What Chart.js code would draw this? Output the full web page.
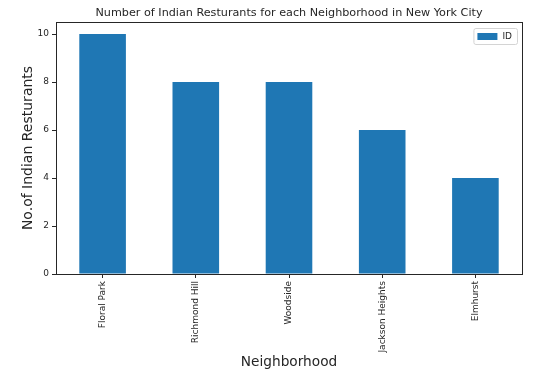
<!DOCTYPE html>
<html>
<head>
<meta charset="utf-8">
<script src="https://cdn.jsdelivr.net/npm/chart.js@4/dist/chart.umd.min.js"></script>
<style>
  html, body { margin: 0; padding: 0; background: #fff; }
  #wrap { width: 540px; height: 374px; }
</style>
</head>
<body>
<div id="wrap"><canvas id="barChart" width="540" height="374"></canvas></div>
<script>
// data
var neighborhoods = ['Floral Park', 'Richmond Hill', 'Woodside', 'Jackson Heights', 'Elmhurst'];
var restaurantCounts = [10, 8, 8, 6, 4];
var yTicks = [0, 2, 4, 6, 8, 10];
var chartTitle = 'Number of Indian Resturants for each Neighborhood in New York City';

var FONT = "'DejaVu Sans', sans-serif";
var INK = '#262626';

// matplotlib style: title over the plot, frame round it, legend box in the upper right
var mplPlugin = {
	id: 'mplLook',
	afterDraw: function(chart) {
		var a = chart.chartArea, ctx = chart.ctx;
		ctx.save();

		// frame
		ctx.strokeStyle = INK;
		ctx.lineWidth = 1;
		ctx.strokeRect(a.left + 0.5, a.top + 0.5, a.right - a.left, a.bottom - a.top);

		// title centred on the plot
		ctx.fillStyle = INK;
		ctx.font = '11.2px ' + FONT;
		ctx.textAlign = 'center';
		ctx.textBaseline = 'middle';
		ctx.fillText(chartTitle, (a.left + a.right) / 2, a.top - 9);

		// legend
		var ds = chart.data.datasets[0];
		ctx.font = '9px ' + FONT;
		var tw = ctx.measureText(ds.label).width;
		var w = 4 + 20 + 5 + tw + 5, h = 16;
		var x = a.right - 5 - w, y = a.top + 6;
		ctx.fillStyle = 'rgba(255,255,255,0.8)';
		ctx.strokeStyle = '#d4d4d4';
		ctx.beginPath();
		ctx.roundRect(x + 0.5, y + 0.5, w, h, 2);
		ctx.fill();
		ctx.stroke();
		ctx.fillStyle = ds.backgroundColor;
		ctx.fillRect(x + 4, y + 5, 20, 7);
		ctx.fillStyle = INK;
		ctx.textAlign = 'left';
		ctx.fillText(ds.label, x + 29, y + 8.5);

		ctx.restore();
	}
};

var ctx = document.getElementById('barChart').getContext('2d');

var chart = new Chart(ctx, {
	type: 'bar',
	data: {
		labels: neighborhoods,
		datasets: [{
			label: 'ID',
			data: restaurantCounts,
			backgroundColor: '#1f77b4',
			borderWidth: 0,
			categoryPercentage: 1.0,
			barPercentage: 0.5
		}]
	},
	plugins: [mplPlugin],
	options: {
		responsive: false,
		animation: false,
		layout: { padding: { left: 0, right: 18, top: 22, bottom: 0 } },
		plugins: {
			title: { display: false },
			legend: { display: false },
			tooltip: { enabled: false }
		},
		scales: {
			x: {
				grid: { display: true, drawOnChartArea: false, offset: false, tickLength: 4, tickColor: INK },
				border: { display: true, color: INK },
				ticks: {
					color: INK,
					font: { family: FONT, size: 9 },
					minRotation: 90,
					maxRotation: 90,
					padding: 3
				},
				title: {
					display: true,
					text: 'Neighborhood',
					color: INK,
					font: { family: FONT, size: 13.7 },
					padding: { top: 0, bottom: 3 }
				},
				afterFit: function(scale) { scale.height = 100; }
			},
			y: {
				min: 0,
				max: 10.5,
				grid: { display: true, drawOnChartArea: false, tickLength: 4, tickColor: INK },
				border: { display: true, color: INK },
				ticks: {
					color: INK,
					font: { family: FONT, size: 9 },
					padding: 3
				},
				afterBuildTicks: function(scale) {
					scale.ticks = yTicks.map(function(v) { return { value: v }; });
				},
				title: {
					display: true,
					text: 'No.of Indian Resturants',
					color: INK,
					font: { family: FONT, size: 14 },
					padding: { top: 20, bottom: 0 }
				},
				afterFit: function(scale) { scale.width = 56; }
			}
		}
	}
});
</script>
</body>
</html>
